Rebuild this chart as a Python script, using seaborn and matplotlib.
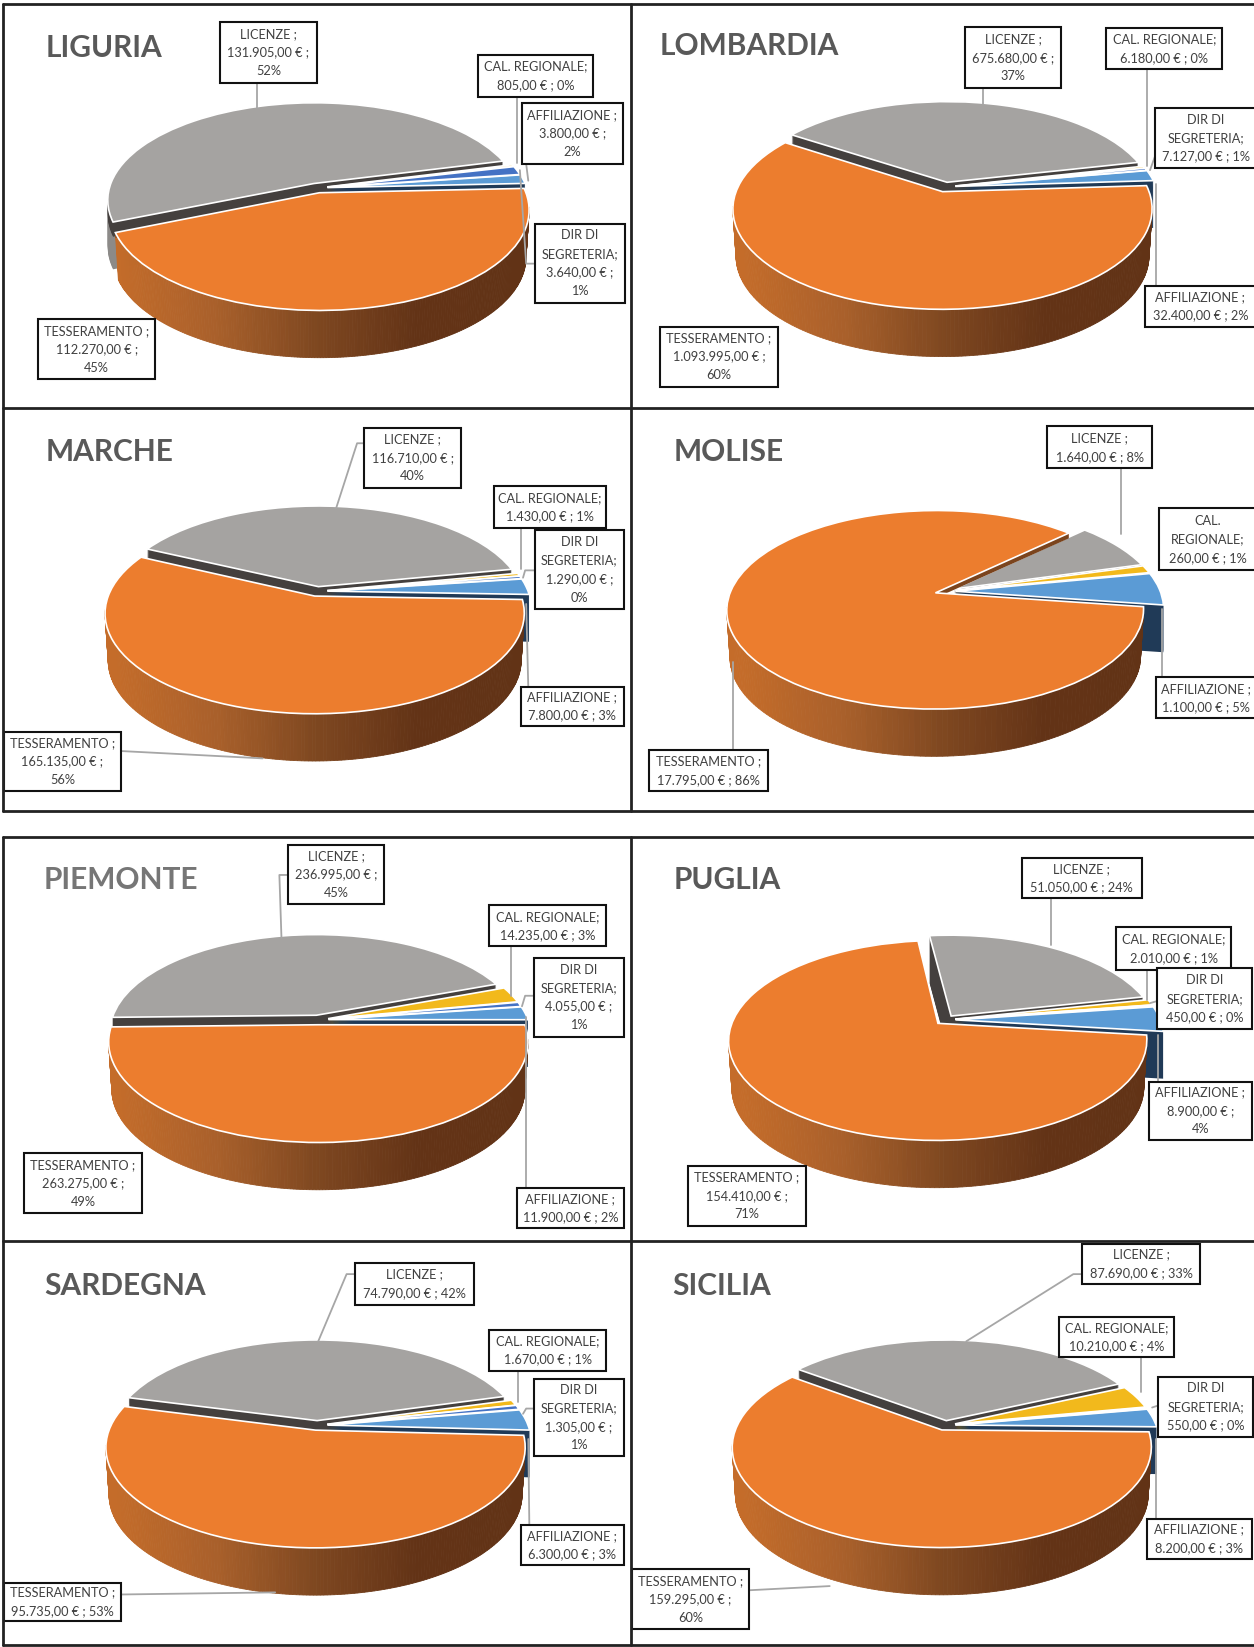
import matplotlib
matplotlib.use('Agg')
import matplotlib.pyplot as plt
import numpy as np
import seaborn as sns
from matplotlib.patches import Rectangle
from matplotlib.transforms import Transform

sns.set_theme(style='white')
plt.rcParams['font.family'] = ['Lato', 'DejaVu Sans']

# slice order as in the sheet, clockwise
SLICES = ['AFFILIAZIONE', 'TESSERAMENTO', 'LICENZE', 'CAL. REGIONALE', 'DIR DI SEGRETERIA']
REGIONS = ['LIGURIA', 'LOMBARDIA', 'MARCHE', 'MOLISE', 'PIEMONTE', 'PUGLIA', 'SARDEGNA', 'SICILIA']

liguria = [3800, 112270, 131905, 805, 3640]
lombardia = [32400, 1093995, 675680, 6180, 7127]
marche = [7800, 165135, 116710, 1430, 1290]
molise = [1100, 17795, 1640, 260, 0]
piemonte = [11900, 263275, 236995, 14235, 4055]
puglia = [8900, 154410, 51050, 2010, 450]
sardegna = [6300, 95735, 74790, 1670, 1305]
sicilia = [8200, 159295, 87690, 10210, 550]
values = [liguria, lombardia, marche, molise, piemonte, puglia, sardegna, sicilia]

# label text, same order as SLICES
labels = [
    ['AFFILIAZIONE ;\n3.800,00 € ;\n2%', 'TESSERAMENTO ;\n112.270,00 € ;\n45%', 'LICENZE ;\n131.905,00 € ;\n52%',
     'CAL. REGIONALE;\n805,00 € ; 0%', 'DIR DI\nSEGRETERIA;\n3.640,00 € ;\n1%'],
    ['AFFILIAZIONE ;\n32.400,00 € ; 2%', 'TESSERAMENTO ;\n1.093.995,00 € ;\n60%', 'LICENZE ;\n675.680,00 € ;\n37%',
     'CAL. REGIONALE;\n6.180,00 € ; 0%', 'DIR DI\nSEGRETERIA;\n7.127,00 € ; 1%'],
    ['AFFILIAZIONE ;\n7.800,00 € ; 3%', 'TESSERAMENTO ;\n165.135,00 € ;\n56%', 'LICENZE ;\n116.710,00 € ;\n40%',
     'CAL. REGIONALE;\n1.430,00 € ; 1%', 'DIR DI\nSEGRETERIA;\n1.290,00 € ;\n0%'],
    ['AFFILIAZIONE ;\n1.100,00 € ; 5%', 'TESSERAMENTO ;\n17.795,00 € ; 86%', 'LICENZE ;\n1.640,00 € ; 8%',
     'CAL.\nREGIONALE;\n260,00 € ; 1%', None],
    ['AFFILIAZIONE ;\n11.900,00 € ; 2%', 'TESSERAMENTO ;\n263.275,00 € ;\n49%', 'LICENZE ;\n236.995,00 € ;\n45%',
     'CAL. REGIONALE;\n14.235,00 € ; 3%', 'DIR DI\nSEGRETERIA;\n4.055,00 € ;\n1%'],
    ['AFFILIAZIONE ;\n8.900,00 € ;\n4%', 'TESSERAMENTO ;\n154.410,00 € ;\n71%', 'LICENZE ;\n51.050,00 € ; 24%',
     'CAL. REGIONALE;\n2.010,00 € ; 1%', 'DIR DI\nSEGRETERIA;\n450,00 € ; 0%'],
    ['AFFILIAZIONE ;\n6.300,00 € ; 3%', 'TESSERAMENTO ;\n95.735,00 € ; 53%', 'LICENZE ;\n74.790,00 € ; 42%',
     'CAL. REGIONALE;\n1.670,00 € ; 1%', 'DIR DI\nSEGRETERIA;\n1.305,00 € ;\n1%'],
    ['AFFILIAZIONE ;\n8.200,00 € ; 3%', 'TESSERAMENTO ;\n159.295,00 € ;\n60%', 'LICENZE ;\n87.690,00 € ; 33%',
     'CAL. REGIONALE;\n10.210,00 € ; 4%', 'DIR DI\nSEGRETERIA;\n550,00 € ; 0%'],
]

# layout, in pixels of a 1194 wide canvas
W, H = 1194, 1568
R, UP, DOWN, DEPTH, EXPLODE = 195, 78, 110, 45, 0.05
centers = [(302, 179), (900, 178), (302, 563), (900, 563), (303, 971), (900, 971), (302, 1357), (900, 1357)]
start_angles = [8, 10, 7.6, 11, 8, 8, 9.6, 10]
small_radius = [0.975, 0.98, 0.98, 1.0, 0.975, 1.0, 0.98, 0.98]
title_pos = [(43, 46), (628, 44), (43, 430), (641, 430), (42, 838), (641, 838), (42, 1224), (640, 1224)]
title_colors = ['#595959'] * 4 + ['#767676'] + ['#595959'] * 3

# x0, y0, x1, y1 for each label box
boxes = [
    [(497, 98, 593, 156), (36, 304, 148, 361), (209, 21, 302, 79), (455, 52, 565, 92), (509, 213, 595, 288)],
    [(1090, 272, 1196, 311), (628, 311, 741, 368), (919, 26, 1010, 84), (1053, 27, 1164, 66), (1100, 103, 1196, 160)],
    [(496, 654, 594, 691), (4, 697, 115, 753), (347, 407, 439, 465), (470, 463, 577, 503), (509, 505, 594, 580)],
    [(1101, 645, 1196, 684), (618, 714, 731, 753), (997, 406, 1097, 446), (1104, 484, 1196, 543), None],
    [(492, 1131, 594, 1169), (23, 1098, 135, 1155), (274, 804, 366, 861), (466, 862, 577, 901), (508, 912, 594, 987)],
    [(1094, 1030, 1192, 1085), (655, 1110, 767, 1167), (973, 817, 1087, 855), (1063, 883, 1172, 923), (1102, 922, 1192, 980)],
    [(496, 1452, 594, 1490), (4, 1507, 115, 1543), (338, 1202, 451, 1242), (466, 1266, 577, 1305), (508, 1313, 594, 1386)],
    [(1092, 1446, 1192, 1484), (602, 1494, 713, 1551), (1030, 1184, 1143, 1222), (1008, 1254, 1118, 1292), (1103, 1311, 1193, 1368)],
]
leaders = [
    [[(501, 156), (503, 172)], [(245, 79), (245, 103)], [(492, 92), (492, 155)], [(508, 251), (501, 251), (495, 162)]],
    [[(936, 84), (936, 99)], [(1092, 66), (1092, 158)], [(1100, 148), (1095, 162)], [(1101, 272), (1101, 175)]],
    [[(347, 422), (340, 422), (320, 484)], [(496, 503), (496, 542)], [(509, 543), (500, 543), (498, 550)],
     [(503, 654), (501, 575)], [(115, 715), (250, 722)]],
    [[(1067, 446), (1067, 508)], [(1106, 645), (1106, 580)], [(698, 714), (698, 630)]],
    [[(274, 833), (266, 833), (268, 893)], [(487, 901), (487, 948)], [(508, 948), (500, 948), (497, 958)],
     [(501, 1131), (501, 968)]],
    [[(1001, 855), (1001, 900)], [(1092, 923), (1092, 952)], [(1102, 953), (1095, 955)], [(1103, 1030), (1103, 985)]],
    [[(338, 1213), (330, 1213), (303, 1277)], [(493, 1305), (493, 1335)], [(508, 1341), (501, 1341), (498, 1346)],
     [(504, 1452), (503, 1370)], [(115, 1518), (262, 1516)]],
    [[(1030, 1213), (1022, 1213), (920, 1277)], [(1086, 1292), (1086, 1325)], [(1103, 1338), (1097, 1340)],
     [(1101, 1446), (1101, 1370)], [(713, 1514), (790, 1510)]],
]

top_colors = ['#5B9BD5', '#EC7D2E', '#A5A3A1', '#F2B91C', '#4472C4']
cut_colors = ['#203A57', '#7B441D', '#44403E', '#8F6E12', '#25406E']
side_palette = sns.blend_palette(['#C46C2A', '#A9602B', '#7E4720', '#633316', '#623316'], 100)


class TiltedDisc(Transform):
    # unit disc seen from above and in front, the far half looks flatter
    input_dims = 2
    output_dims = 2

    def __init__(self, cx, cy):
        super().__init__()
        self.cx, self.cy = cx, cy
        self.k = (DOWN - UP) / (DOWN + UP)
        self.a = 2 * UP * DOWN / (UP + DOWN)

    def transform_non_affine(self, values):
        x, y = np.asarray(values).T
        w = 1 + self.k * y
        return np.column_stack([self.cx + R * x / w, self.cy - self.a * y / w])


def draw_pie(ax, vals, center, start, small_r, pale_rim=False):
    cx, cy = center
    kw = dict(explode=[EXPLODE] * 5, startangle=start, counterclock=False, frame=True)
    # cut faces of the small slices and of licenze, piled up under the tops
    for dz in np.arange(DEPTH, 0, -1.0):
        cols = list(cut_colors)
        if pale_rim and dz > 14:
            cols[2] = '#8C8A88'
        wedges, _ = ax.pie(vals, colors=cols, wedgeprops=dict(linewidth=0), **kw)
        for w in wedges:
            w.set_transform(TiltedDisc(cx, cy + dz) + ax.transData)
            w.set_zorder(2)
        wedges[1].set_visible(False)
        wedges[4].set_visible(vals[4] > 0)
        for j in (0, 3, 4):
            wedges[j].set_radius(small_r)

    wedges, _ = ax.pie(vals, colors=top_colors, wedgeprops=dict(edgecolor='white', linewidth=1.2), **kw)
    tilt = TiltedDisc(cx, cy)
    for v, w in zip(vals, wedges):
        w.set_transform(tilt + ax.transData)
        w.set_zorder(3)
        w.set_visible(v > 0)
    for j in (0, 3, 4):
        wedges[j].set_radius(small_r)
    orange = wedges[1]
    orange.set_zorder(5)

    # wall of the big slice, a little narrower at the bottom
    t = np.radians(np.linspace(orange.theta1, orange.theta2, 240))
    ox, oy = orange.center
    rim = tilt.transform_non_affine(np.column_stack([ox + np.cos(t), oy + np.sin(t)]))
    low = cx + (rim[:, 0] - cx) * 0.985
    for i in range(len(t) - 1):
        if np.sin(t[i]) > -0.15 and np.sin(t[i + 1]) > -0.15:
            continue
        frac = (rim[i:i + 2, 0].mean() - cx + R) / (2 * R)
        col = side_palette[int(np.clip(frac, 0, 0.999) * 100)]
        ax.fill([rim[i, 0], rim[i + 1, 0], low[i + 1], low[i]],
                [rim[i, 1], rim[i + 1, 1], rim[i + 1, 1] + DEPTH, rim[i, 1] + DEPTH],
                color=col, linewidth=0.6, zorder=4)
    # thin cut face along the end of the big slice
    apex = tilt.transform_non_affine(np.array([[ox, oy]]))[0]
    for end in (rim[0], rim[-1]):
        ax.fill([apex[0], end[0], end[0], apex[0]], [apex[1], end[1], end[1] + 5, apex[1] + 5],
                color=cut_colors[1], linewidth=0, zorder=4)


fig = plt.figure(figsize=(12.54, 16.47), dpi=100)
ax = fig.add_axes([0, 0, 1, 1])

for i, region in enumerate(REGIONS):
    draw_pie(ax, values[i], centers[i], start_angles[i], small_radius[i], pale_rim=(region == 'LIGURIA'))
    ax.text(title_pos[i][0], title_pos[i][1], region, fontsize=21.5, fontweight='bold',
            color=title_colors[i], va='center', ha='left', zorder=8)
    for line in leaders[i]:
        xs, ys = zip(*line)
        ax.plot(xs, ys, color='#A6A6A6', linewidth=1.3, zorder=7)
    for box, text in zip(boxes[i], labels[i]):
        if box is None:
            continue
        x0, y0, x1, y1 = box
        ax.add_patch(Rectangle((x0, y0), x1 - x0, y1 - y0, facecolor='white', edgecolor='#111111',
                               linewidth=1.5, zorder=9))
        ax.text((x0 + x1) / 2, (y0 + y1) / 2, text, fontsize=9.2, color='#404040', ha='center', va='center',
                linespacing=1.65, zorder=10)

# frame of the pasted panels
for x in (3, 601):
    ax.plot([x, x], [4, 772], color='#222222', linewidth=2, zorder=12)
    ax.plot([x, x], [797, 1566], color='#222222', linewidth=2, zorder=12)
for y in (4, 388, 772, 797, 1181, 1566):
    ax.plot([3, W], [y, y], color='#222222', linewidth=2, zorder=12)

ax.set_aspect('auto')
ax.set_xlim(0, W)
ax.set_ylim(H, 0)
ax.axis('off')
fig.savefig('out.png', dpi=100)
